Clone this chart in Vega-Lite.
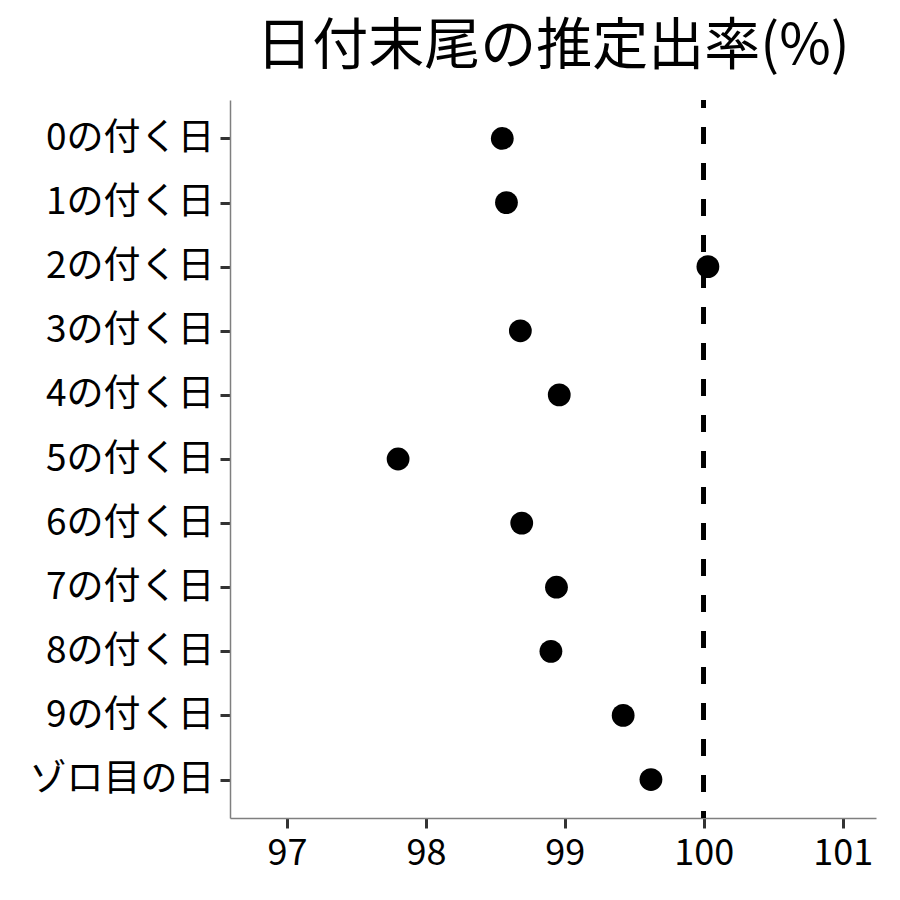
{
  "$schema": "https://vega.github.io/schema/vega-lite/v6.json",
  "width": 646,
  "height": 718,
  "autosize": {"type": "none"},
  "padding": {"left": 230, "top": 100, "right": 24, "bottom": 82},
  "background": "white",
  "title": {
    "text": "日付末尾の推定出率(%)",
    "font": "Noto Sans CJK JP",
    "fontSize": 56,
    "fontWeight": "normal",
    "color": "black",
    "anchor": "middle",
    "offset": 22
  },
  "config": {
    "view": {"stroke": null},
    "font": "Noto Sans CJK JP",
    "axis": {
      "grid": false,
      "domainColor": "#7f7f7f",
      "domainWidth": 1.5,
      "tickColor": "#333333",
      "tickWidth": 3,
      "tickSize": 10,
      "labelColor": "black",
      "labelFont": "Noto Sans CJK JP",
      "labelLimit": 400,
      "title": null
    }
  },
  "data": {
    "values": [
      {"day": "0の付く日", "rate": 98.55},
      {"day": "1の付く日", "rate": 98.58},
      {"day": "2の付く日", "rate": 100.03},
      {"day": "3の付く日", "rate": 98.68},
      {"day": "4の付く日", "rate": 98.96},
      {"day": "5の付く日", "rate": 97.80},
      {"day": "6の付く日", "rate": 98.69},
      {"day": "7の付く日", "rate": 98.94},
      {"day": "8の付く日", "rate": 98.90},
      {"day": "9の付く日", "rate": 99.42},
      {"day": "ゾロ目の日", "rate": 99.62}
    ]
  },
  "layer": [
    {
      "mark": {"type": "rule", "color": "black", "strokeWidth": 4, "strokeDash": [17, 19], "strokeDashOffset": 9},
      "encoding": {"x": {"datum": 100, "type": "quantitative"}}
    },
    {
      "mark": {"type": "point", "filled": true, "color": "black", "opacity": 1, "size": 520},
      "encoding": {
        "x": {
          "field": "rate",
          "type": "quantitative",
          "scale": {"domain": [96.59, 101.24], "nice": false, "zero": false},
          "axis": {"values": [97, 98, 99, 100, 101], "format": "d", "labelFontSize": 36, "labelPadding": 8}
        },
        "y": {
          "field": "day",
          "type": "nominal",
          "sort": null,
          "scale": {"type": "point", "padding": 0.6},
          "axis": {"labelFontSize": 37, "labelPadding": 6}
        }
      }
    }
  ]
}
